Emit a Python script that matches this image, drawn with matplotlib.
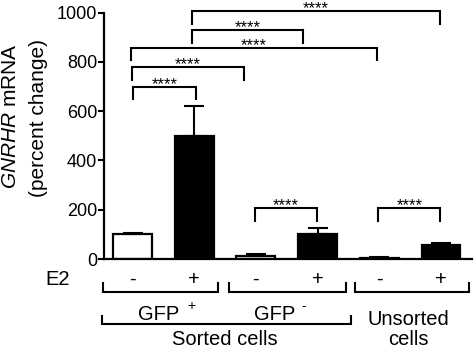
import numpy as np
import matplotlib
matplotlib.use("Agg")
import matplotlib.pyplot as plt

plt.rcParams['font.family'] = ['Liberation Sans', 'DejaVu Sans']
plt.rcParams['mathtext.fontset'] = 'custom'
plt.rcParams['mathtext.rm'] = 'Liberation Sans'
plt.rcParams['mathtext.it'] = 'Liberation Sans:italic'

# ---- data ----
e2_labels = ["-", "+", "-", "+", "-", "+"]
values = [100, 500, 13, 100, 6, 57]
errors = [4, 122, 7, 27, 3, 9]
bar_colors = ["white", "black", "white", "black", "white", "black"]
group_labels = ["GFP", "GFP"]
group_sup = ["+", "-"]
unsorted_lines = ["Unsorted", "cells"]
sorted_label = "Sorted cells"
# significance brackets: (x_left, x_right, y_top, y_leg_bottom_left, y_leg_bottom_right, label)
brackets = [
    (0.01, 1.03, 698, 649, 649, "****"),
    (-0.01, 1.80, 778, 728, 728, "****"),
    (-0.02, 3.96, 856, 809, 809, "****"),
    (0.97, 2.77, 931, 879, 879, "****"),
    (0.96, 4.98, 1008, 955, 955, "****"),
    (1.98, 2.99, 206, 154, 154, "****"),
    (3.98, 4.99, 206, 154, 154, "****"),
]

W, H = 475, 350
fig = plt.figure(figsize=(W / 100, H / 100), dpi=100)
ax = fig.add_axes([104 / W, (H - 259) / H, (472 - 104) / W, (259 - 12.7) / H])

x = np.arange(len(values))
ax.bar(x, values, width=0.63, color=bar_colors, edgecolor="black", linewidth=1.6, zorder=2)
ax.errorbar(x, values, yerr=[np.zeros(len(errors)), errors], fmt="none", ecolor="black",
            elinewidth=1.5, capsize=7, capthick=1.5, zorder=3)

ax.set_xlim(-0.462, 5.502)
ax.set_ylim(0, 1000)
ax.set_yticks([0, 200, 400, 600, 800, 1000])
ax.tick_params(axis="y", labelsize=13, width=1.5, length=4, direction="out", pad=1)
ax.set_xticks([])
for s in ["top", "right"]:
    ax.spines[s].set_visible(False)
for s in ["left", "bottom"]:
    ax.spines[s].set_linewidth(1.6)

# significance brackets
for (xl, xr, yt, ybl, ybr, lab) in brackets:
    ax.plot([xl, xl, xr, xr], [ybl, yt, yt, ybr], color="black", lw=1.5,
            clip_on=False, solid_joinstyle="miter", zorder=4)
    ax.annotate(lab, xy=((xl + xr) / 2, yt), xytext=(0, -1.5), textcoords="offset points",
                ha="center", va="baseline", fontsize=12, annotation_clip=False)

# y label (two lines)
fig.text(11 / W, (H - 116.5) / H, r"$\it{GNRHR}$ mRNA", rotation=90, ha="center",
         va="center", fontsize=15)
fig.text(39 / W, (H - 118) / H, "(percent change)", rotation=90, ha="center",
         va="center", fontsize=15)

# E2 row
fs = 14.5
ax.text(-1.207, -106, "E2", ha="center", va="baseline", fontsize=fs, clip_on=False)
for xi, lab in zip(x, e2_labels):
    ax.text(xi, -106, lab, ha="center", va="baseline", fontsize=fs, clip_on=False)

def hbracket(xl, xr, ybot, ytop):
    ax.plot([xl, xl, xr, xr], [ytop, ybot, ybot, ytop], color="black", lw=1.5,
            clip_on=False, solid_joinstyle="miter")

# group brackets
hbracket(-0.478, 1.386, -135, -96)
hbracket(1.564, 3.46, -135, -96)
hbracket(3.61, 5.45, -135, -96)
# sorted cells bracket
hbracket(-0.50, 3.54, -265, -232)

# group texts
ax.text(0.43, -248, group_labels[0], ha="center", va="baseline", fontsize=fs, clip_on=False)
ax.text(0.95, -190, group_sup[0], ha="center", va="center", fontsize=10, clip_on=False)
ax.text(2.31, -248, group_labels[1], ha="center", va="baseline", fontsize=fs, clip_on=False)
ax.text(2.78, -191, group_sup[1], ha="center", va="center", fontsize=10, clip_on=False)
ax.text(4.465, -266, unsorted_lines[0], ha="center", va="baseline", fontsize=fs, clip_on=False)
ax.text(4.465, -350, unsorted_lines[1], ha="center", va="baseline", fontsize=fs, clip_on=False)
ax.text(1.5, -350, sorted_label, ha="center", va="baseline", fontsize=fs, clip_on=False)

fig.savefig("out.png", dpi=100)
